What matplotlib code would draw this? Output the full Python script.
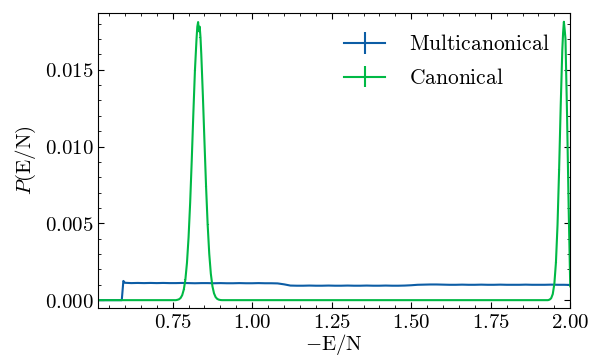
import matplotlib
matplotlib.use('Agg')
import matplotlib.pyplot as plt
from matplotlib.ticker import MultipleLocator, FuncFormatter

plt.rcParams['font.family'] = 'serif'
plt.rcParams['font.serif'] = ['DejaVu Serif']
plt.rcParams['mathtext.fontset'] = 'cm'
plt.rcParams['font.size'] = 15

# multicanonical histogram
e_multi = [0.516, 0.590, 0.595, 0.600, 0.62, 0.64, 0.66, 0.68, 0.70, 0.72, 0.74,
           0.76, 0.78, 0.80, 0.82, 0.84, 0.86, 0.88, 0.90, 0.92, 0.94, 0.96,
           0.98, 1.00, 1.02, 1.04, 1.06, 1.08, 1.10, 1.12, 1.14, 1.16, 1.18,
           1.20, 1.22, 1.24, 1.26, 1.28, 1.30, 1.32, 1.34, 1.36, 1.38, 1.40,
           1.42, 1.44, 1.46, 1.48, 1.50, 1.52, 1.54, 1.56, 1.58, 1.60, 1.62,
           1.64, 1.66, 1.68, 1.70, 1.72, 1.74, 1.76, 1.78, 1.80, 1.82, 1.84,
           1.86, 1.88, 1.90, 1.92, 1.94, 1.96, 1.98, 2.00]
p_multi = [0.0, 0.0, 0.00125, 0.00113, 0.00111, 0.00112, 0.00111, 0.00112,
           0.00111, 0.00112, 0.00111, 0.00111, 0.00112, 0.00111, 0.00110,
           0.00111, 0.00111, 0.00110, 0.00111, 0.00110, 0.00110, 0.00111,
           0.00110, 0.00110, 0.00111, 0.00110, 0.00110, 0.00109, 0.00103,
           0.00095, 0.00094, 0.00094, 0.00095, 0.00094, 0.00094, 0.00095,
           0.00094, 0.00094, 0.00095, 0.00094, 0.00094, 0.00095, 0.00094,
           0.00094, 0.00095, 0.00094, 0.00094, 0.00095, 0.00097, 0.00100,
           0.00101, 0.00102, 0.00102, 0.00101, 0.00100, 0.00100, 0.00101,
           0.00100, 0.00100, 0.00101, 0.00100, 0.00100, 0.00101, 0.00100,
           0.00100, 0.00100, 0.00101, 0.00100, 0.00100, 0.00100, 0.00101,
           0.00100, 0.00100, 0.00099]
err_multi = 1.5e-5

# canonical histogram
e_canon = [0.516, 0.760, 0.765, 0.770, 0.775, 0.780, 0.785, 0.790, 0.795, 0.800,
           0.805, 0.810, 0.815, 0.820, 0.825, 0.8275, 0.830, 0.8325, 0.835,
           0.8375, 0.840, 0.845, 0.850, 0.855, 0.860, 0.865, 0.870, 0.875,
           0.880, 0.885, 0.890, 0.895, 0.900, 0.905, 1.930, 1.935, 1.940,
           1.945, 1.950, 1.955, 1.960, 1.965, 1.970, 1.975, 1.9775, 1.980,
           1.9825, 1.985, 1.990, 1.995, 2.000]
p_canon = [0.0, 0.0, 0.000022, 0.000058, 0.000142, 0.000325, 0.000687, 0.001345,
           0.002436, 0.00409, 0.00634, 0.00911, 0.01213, 0.01494, 0.01700,
           0.01780, 0.01810, 0.01750, 0.01780, 0.01710, 0.01600, 0.01330,
           0.01031, 0.00740, 0.00492, 0.00302, 0.00172, 0.000907, 0.000443,
           0.00020, 0.000084, 0.000032, 0.00001, 0.0, 0.0, 0.000034, 0.000126,
           0.000393, 0.001055, 0.00245, 0.00490, 0.00850, 0.01265, 0.01627,
           0.01740, 0.01812, 0.01760, 0.01700, 0.01200, 0.00600, 0.00090]
err_canon = 1.0e-5

fig = plt.figure(figsize=(5.99, 3.57), dpi=100)
ax = fig.add_axes([0.164, 0.136, 0.788, 0.828])

ax.errorbar(e_multi, p_multi, yerr=err_multi, color='#0C5DA5', lw=1.5,
            elinewidth=1.5, capsize=0, label=r'$\mathrm{Multicanonical}$')
ax.errorbar(e_canon, p_canon, yerr=err_canon, color='#00B945', lw=1.5,
            elinewidth=1.5, capsize=0, label=r'$\mathrm{Canonical}$')

ax.set_xlim(0.516, 2.0)
ax.set_ylim(-0.00054, 0.0187)
ax.xaxis.set_major_locator(MultipleLocator(0.25))
ax.xaxis.set_minor_locator(MultipleLocator(0.05))
ax.yaxis.set_major_locator(MultipleLocator(0.005))
ax.yaxis.set_minor_locator(MultipleLocator(0.001))
ax.xaxis.set_major_formatter(FuncFormatter(lambda v, p: '$%.2f$' % v))
ax.yaxis.set_major_formatter(FuncFormatter(lambda v, p: '$%.3f$' % v))
ax.tick_params(which='both', direction='in', top=True, right=True)
ax.tick_params(which='major', length=4.5, width=0.8)
ax.tick_params(which='minor', length=2.3, width=0.6)

ax.set_xlabel(r'$-\mathrm{E/N}$', labelpad=0)
ax.set_ylabel(r'$P(\mathrm{E/N})$', labelpad=5)
ax.legend(loc='upper right', frameon=False, handlelength=1.9,
          handletextpad=1.1, labelspacing=0.55, fontsize=15.5,
          borderaxespad=0.55)

fig.savefig('out.png', dpi=100)
